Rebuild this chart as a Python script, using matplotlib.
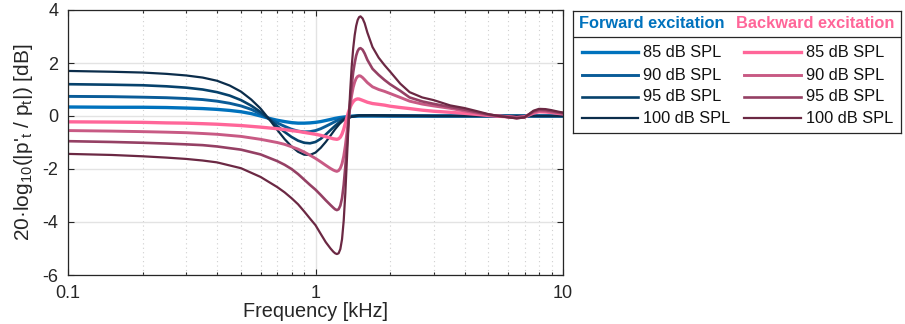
import numpy as np
import matplotlib.pyplot as plt
from matplotlib.lines import Line2D

plt.rcParams['font.family'] = ['Liberation Sans', 'DejaVu Sans']
plt.rcParams['mathtext.default'] = 'regular'
plt.rcParams['axes.unicode_minus'] = False

######## DATA ########

levels = ['85 dB SPL', '90 dB SPL', '95 dB SPL', '100 dB SPL']

# forward excitation, frequency in kHz
f_fwd = [0.1, 0.15, 0.2, 0.25, 0.3, 0.35, 0.4, 0.45, 0.5, 0.55, 0.6, 0.65, 0.7, 0.75, 0.8,
         0.85, 0.9, 0.95, 1.0, 1.05, 1.1, 1.15, 1.2, 1.25, 1.3, 1.4, 1.5, 1.7, 2.0, 3.0, 5.0, 10.0]
fwd_85 = [0.34, 0.33, 0.33, 0.32, 0.30, 0.28, 0.25, 0.21, 0.16, 0.09, 0.00, -0.09, -0.16, -0.21, -0.25,
          -0.27, -0.27, -0.26, -0.24, -0.21, -0.17, -0.13, -0.09, -0.06, -0.04, -0.01, 0.0, 0.0, 0.0, 0.0, 0.0, 0.0]
fwd_90 = [0.74, 0.73, 0.71, 0.69, 0.66, 0.62, 0.56, 0.48, 0.38, 0.25, 0.08, -0.10, -0.26, -0.39, -0.50,
          -0.57, -0.60, -0.59, -0.55, -0.48, -0.39, -0.30, -0.21, -0.13, -0.07, -0.01, 0.01, 0.01, 0.0, 0.0, 0.0, 0.0]
fwd_95 = [1.20, 1.18, 1.16, 1.12, 1.07, 1.00, 0.90, 0.77, 0.60, 0.39, 0.15, -0.12, -0.38, -0.60, -0.79,
          -0.93, -1.01, -1.03, -0.98, -0.86, -0.70, -0.53, -0.37, -0.23, -0.12, -0.02, 0.02, 0.02, 0.01, 0.0, 0.0, 0.0]
fwd_100 = [1.70, 1.67, 1.64, 1.59, 1.53, 1.45, 1.33, 1.15, 0.92, 0.62, 0.28, -0.12, -0.52, -0.87, -1.15,
           -1.35, -1.46, -1.47, -1.38, -1.20, -0.98, -0.74, -0.50, -0.30, -0.15, -0.03, 0.02, 0.03, 0.02, 0.0, 0.0, 0.0]

# backward excitation
f_bwd = [0.1, 0.15, 0.2, 0.25, 0.3, 0.35, 0.4, 0.5, 0.6, 0.7, 0.75, 0.8, 0.85, 0.9, 0.95, 1.0, 1.05,
         1.1, 1.15, 1.18, 1.2, 1.22, 1.24, 1.26, 1.28, 1.3, 1.32, 1.34, 1.36, 1.38, 1.4, 1.42, 1.44,
         1.46, 1.48, 1.5, 1.52, 1.55, 1.58, 1.62, 1.7, 1.8, 1.9, 2.0, 2.2, 2.4, 2.7, 3.0, 3.5, 4.0,
         4.5, 5.0, 5.5, 6.0, 6.5, 7.0, 7.3, 7.6, 8.0, 8.5, 9.0, 9.5, 10.0]
bwd_85 = [-0.22, -0.23, -0.24, -0.26, -0.27, -0.29, -0.31, -0.36, -0.42, -0.48, -0.51, -0.55, -0.58, -0.62, -0.655, -0.69, -0.73,
          -0.78, -0.83, -0.86, -0.87, -0.88, -0.86, -0.80, -0.68, -0.50, -0.28, -0.05, 0.16, 0.33, 0.45, 0.54, 0.60,
          0.63, 0.645, 0.64, 0.62, 0.59, 0.56, 0.52, 0.47, 0.44, 0.41, 0.37, 0.32, 0.28, 0.22, 0.18, 0.14, 0.10,
          0.06, 0.02, -0.01, -0.03, -0.06, -0.03, 0.04, 0.11, 0.16, 0.15, 0.13, 0.10, 0.08]
bwd_90 = [-0.55, -0.57, -0.59, -0.61, -0.63, -0.66, -0.69, -0.77, -0.88, -1.00, -1.07, -1.16, -1.25, -1.36, -1.48, -1.60, -1.73,
          -1.86, -1.98, -2.04, -2.07, -2.09, -2.06, -1.97, -1.80, -1.52, -1.12, -0.62, -0.10, 0.38, 0.78, 1.08, 1.28,
          1.42, 1.49, 1.52, 1.51, 1.45, 1.37, 1.26, 1.10, 1.00, 0.93, 0.85, 0.70, 0.56, 0.45, 0.38, 0.29, 0.19,
          0.11, 0.04, 0.0, -0.03, -0.06, -0.04, 0.05, 0.14, 0.19, 0.18, 0.15, 0.12, 0.09]
bwd_95 = [-0.95, -0.98, -1.01, -1.04, -1.07, -1.10, -1.15, -1.27, -1.45, -1.70, -1.84, -2.00, -2.19, -2.40, -2.60, -2.78, -2.98,
          -3.18, -3.36, -3.46, -3.52, -3.55, -3.52, -3.38, -3.10, -2.60, -1.90, -1.05, -0.20, 0.55, 1.15, 1.65, 2.00,
          2.28, 2.45, 2.54, 2.56, 2.50, 2.36, 2.12, 1.78, 1.55, 1.36, 1.20, 0.95, 0.70, 0.55, 0.46, 0.34, 0.24,
          0.14, 0.05, 0.0, -0.04, -0.08, -0.05, 0.06, 0.17, 0.23, 0.22, 0.18, 0.14, 0.11]
bwd_100 = [-1.43, -1.47, -1.52, -1.57, -1.62, -1.68, -1.75, -1.97, -2.30, -2.68, -2.88, -3.10, -3.33, -3.60, -3.87, -4.12, -4.45,
           -4.76, -5.00, -5.12, -5.18, -5.21, -5.18, -5.02, -4.65, -3.95, -2.90, -1.60, -0.30, 0.90, 1.85, 2.55, 3.05,
           3.40, 3.62, 3.73, 3.76, 3.68, 3.50, 3.15, 2.60, 2.20, 1.92, 1.68, 1.22, 0.90, 0.70, 0.60, 0.40, 0.30,
           0.18, 0.07, 0.0, -0.05, -0.09, -0.05, 0.08, 0.20, 0.27, 0.26, 0.22, 0.17, 0.13]

fwd_colors = ['#0072bd', '#0a5c98', '#06426c', '#0b2d4b']
bwd_colors = ['#ff6699', '#c85a84', '#954064', '#6b2843']
widths = [2.4, 2.1, 1.9, 1.6]

######## PLOT ########

fig = plt.figure(figsize=(9.05, 3.24), dpi=100)
ax = fig.add_axes([68/905, 49/324, 495/905, 265/324])

for y, c, lw in zip([fwd_85, fwd_90, fwd_95, fwd_100], fwd_colors, widths):
    ax.plot(f_fwd, y, color=c, lw=lw)
for y, c, lw in zip([bwd_85, bwd_90, bwd_95, bwd_100], bwd_colors, widths):
    ax.plot(f_bwd, y, color=c, lw=lw)

ax.set_xscale('log')
ax.set_xlim(0.1, 10)
ax.set_ylim(-6, 4)
ax.set_xticks([0.1, 1, 10])
ax.set_xticklabels(['0.1', '1', '10'])
ax.set_yticks([-6, -4, -2, 0, 2, 4])
ax.grid(True, which='major', color='#e3e3e3', lw=1.0)
ax.grid(True, which='minor', axis='x', color='#cfcfcf', lw=0.8, ls=(0, (1, 3)))
ax.set_axisbelow(True)
ax.tick_params(which='both', direction='in', top=True, right=True, colors='#262626',
               labelsize=13, width=0.8)
ax.tick_params(which='major', length=4, pad=7)
ax.tick_params(which='minor', length=2.5)
for s in ax.spines.values():
    s.set_color('#262626')
    s.set_linewidth(0.9)
ax.set_xlabel('Frequency [kHz]', fontsize=14.3, color='#262626', labelpad=0)
ax.set_ylabel(r"20·log$_{10}$(|p$'_t$ / p$_t$|) [dB]", fontsize=15, color='#262626', labelpad=5)

######## LEGEND ########

lax = fig.add_axes([573/905, (324-132.7)/324, 328/905, 122/324])
lax.set_xlim(573, 901)
lax.set_ylim(132.7, 10.7)
lax.set_xticks([])
lax.set_yticks([])
for s in lax.spines.values():
    s.set_color('#262626')
    s.set_linewidth(0.9)
lax.axhline(36.7, color='#262626', lw=0.9)
lax.text(652, 24, 'Forward excitation', color='#0072bd', fontsize=11.8, fontweight='bold',
         ha='center', va='center')
lax.text(815.5, 24, 'Backward excitation', color='#ff6699', fontsize=11.8, fontweight='bold',
         ha='center', va='center')
rows = [52.3, 75, 96.7, 118.3]
for i, lab in enumerate(levels):
    lax.add_line(Line2D([581.7, 638.3], [rows[i], rows[i]], color=fwd_colors[i], lw=widths[i]))
    lax.text(643.3, rows[i], lab, fontsize=11.8, va='center', ha='left', color='#111111')
    lax.add_line(Line2D([744, 801], [rows[i], rows[i]], color=bwd_colors[i], lw=widths[i]))
    lax.text(806, rows[i], lab, fontsize=11.8, va='center', ha='left', color='#111111')

fig.savefig('out.png', dpi=100)
